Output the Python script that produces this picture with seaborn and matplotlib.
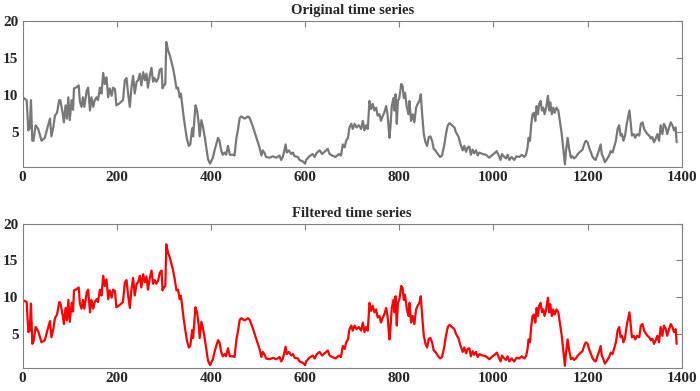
import numpy as np
import pandas as pd
import seaborn as sns
from matplotlib import pyplot as plt

# sample index and values
t = [0, 8.5, 12, 15, 17.6, 20.4, 23, 27.5, 33, 40, 47, 54, 58, 61, 65, 68.5, 73, 77.6, 80, 85,
     87.6, 91, 94, 97, 100, 104, 107, 109, 113, 119, 121.5, 125, 128, 131, 136, 139, 143, 146, 150, 153,
     157, 160, 164, 167.5, 171, 174.5, 178, 181.6, 185, 189, 192, 196, 199, 206, 213, 217, 220.5, 224, 227.6, 231,
     234.6, 238, 242, 245, 249, 252, 256, 259.5, 263, 266, 270, 273.6, 277, 280, 284, 288, 291, 295, 297, 300,
     303, 305, 309, 312.5, 316, 319.5, 323, 326.6, 330, 333.6, 336, 338.6, 342, 345.6, 349, 353, 356, 360, 362, 367,
     370.5, 374, 376, 379.6, 383, 386.7, 390, 393.7, 398, 401, 404, 408, 411, 415, 418, 422, 425, 429, 432, 436,
     440, 447, 450, 454, 457, 461, 464.5, 471.5, 478.5, 482, 489, 496, 503, 507, 510, 514, 517, 524.5, 531.6, 538.7,
     545.7, 549, 552.7, 558.5, 561, 565.6, 570.5, 574, 577.5, 584.6, 588, 595, 600, 602, 609, 616, 620, 625, 630.6, 636,
     641, 648, 652, 657.5, 664.5, 671.6, 676, 680, 684, 687, 691, 694, 698, 701, 705, 709, 714, 719, 722.5, 726,
     729.6, 733, 736.6, 740, 743.6, 747, 750.7, 754, 757.7, 761, 765, 768, 772, 775, 779, 781, 784, 787.6, 789.7, 792,
     794.6, 797, 800, 804, 807, 809.5, 812, 816, 819.6, 821.5, 825, 828.5, 832, 835.6, 839, 842.7, 845.6, 848.5, 852, 855.6,
     859, 862.6, 866, 870, 873, 876.6, 881.6, 886.5, 890.8, 895.7, 899, 903, 906.7, 912, 917, 920, 926, 929.6, 934.6, 938,
     941.7, 945, 948.7, 952, 955.8, 959, 962.9, 966.5, 970, 977, 984, 991, 998, 1004, 1007, 1011, 1015, 1018, 1021.5, 1026.6,
     1030, 1033.6, 1038.5, 1044, 1049, 1054.7, 1060, 1065.5, 1069, 1072.4, 1074.5, 1077.5, 1080, 1083, 1086, 1088.8, 1091.6, 1094.4, 1097, 1100,
     1103, 1105.7, 1108.5, 1112, 1115.6, 1118.5, 1120.5, 1124, 1127, 1130, 1134, 1137.7, 1141, 1145, 1148, 1151.7, 1154, 1157.5, 1161, 1164.5,
     1168, 1171, 1175, 1178, 1182, 1185.5, 1189, 1192.5, 1196, 1200, 1203, 1207, 1210, 1214, 1217, 1224, 1227.6, 1230, 1233, 1236.6,
     1240, 1245.7, 1249, 1253, 1256, 1260, 1263.6, 1267, 1270, 1273, 1276, 1279.5, 1283, 1286.6, 1288.7, 1291, 1294, 1298, 1301, 1305,
     1309.7, 1313, 1316.6, 1320, 1323.7, 1327, 1330.8, 1334, 1337.5, 1341, 1344.6, 1348, 1351.7, 1355, 1358.8, 1362, 1366, 1369, 1373, 1376.5,
     1380, 1383.5, 1387, 1389]

original = [9.7, 9.3, 5.2, 5.5, 9.3, 3.8, 3.8, 5.9, 5.4, 3.8, 4.2, 5.9, 6.8, 4.4, 5.6, 7.2, 7.6, 9.3, 9.3, 7.5,
            6.3, 8.6, 6.8, 9.7, 6.6, 9.3, 8.0, 10.9, 11.0, 11.3, 9.1, 8.4, 9.7, 8.4, 10.6, 11.0, 7.9, 9.7, 8.4, 9.3,
            9.7, 9.3, 11.0, 10.2, 13.0, 11.5, 12.4, 9.7, 10.9, 9.9, 11.0, 10.8, 8.6, 8.9, 9.3, 12.0, 12.3, 10.2, 8.4, 11.0,
            12.6, 10.2, 11.8, 12.0, 12.9, 11.3, 13.1, 12.0, 12.9, 11.0, 12.6, 13.7, 11.8, 12.3, 11.8, 12.3, 13.4, 13.6, 10.9, 11.3,
            11.5, 17.2, 16.0, 15.4, 14.5, 13.6, 12.4, 10.9, 11.0, 9.7, 10.2, 8.8, 7.0, 5.4, 4.0, 3.1, 3.3, 5.5, 4.4, 8.6,
            7.9, 6.1, 4.4, 6.6, 5.7, 4.3, 2.9, 1.3, 0.7, 1.1, 1.5, 2.6, 3.3, 4.2, 3.8, 2.4, 1.9, 2.2, 1.9, 3.1,
            1.9, 1.9, 1.8, 4.2, 5.2, 6.9, 7.1, 6.8, 7.1, 6.9, 5.7, 4.3, 2.9, 1.8, 2.5, 2.1, 1.6, 1.5, 1.7, 1.5,
            1.8, 1.2, 1.6, 3.3, 2.2, 2.5, 2.0, 2.2, 1.7, 1.6, 1.2, 1.0, 0.7, 1.2, 1.7, 2.0, 1.6, 2.2, 2.5, 2.0,
            2.3, 2.7, 2.0, 1.8, 1.6, 2.0, 1.8, 3.3, 2.9, 3.8, 4.2, 5.6, 6.1, 5.4, 6.1, 5.6, 5.9, 5.4, 6.5, 5.2,
            5.9, 5.4, 9.2, 8.1, 8.8, 7.9, 8.3, 7.2, 7.4, 6.5, 7.2, 7.6, 8.5, 7.4, 4.2, 5.6, 8.5, 9.6, 7.9, 10.1,
            6.1, 9.2, 9.6, 11.5, 11.2, 9.6, 10.3, 8.3, 7.4, 9.2, 6.5, 7.4, 6.3, 8.3, 8.8, 9.2, 10.1, 7.4, 4.7, 3.6,
            3.1, 4.3, 4.4, 3.7, 2.7, 2.5, 2.0, 1.6, 1.8, 3.3, 4.7, 5.9, 6.2, 5.9, 5.6, 5.0, 4.3, 3.4, 2.5, 3.1,
            2.3, 2.9, 3.0, 1.9, 2.6, 2.1, 2.5, 1.8, 2.2, 2.0, 1.9, 1.5, 1.9, 2.2, 2.4, 1.8, 1.2, 2.0, 1.7, 1.4,
            1.9, 1.2, 1.6, 1.2, 1.7, 1.6, 1.9, 1.6, 1.9, 2.9, 4.2, 3.8, 5.9, 7.4, 7.6, 6.5, 8.5, 7.4, 8.8, 9.2,
            7.9, 8.3, 7.4, 8.3, 9.9, 7.9, 9.0, 7.4, 8.3, 7.6, 8.3, 7.9, 6.5, 4.7, 2.9, 0.6, 2.4, 4.2, 2.6, 1.5,
            1.7, 1.4, 1.6, 1.9, 2.2, 2.4, 2.6, 3.3, 3.8, 3.6, 2.9, 2.2, 1.7, 1.3, 1.2, 2.5, 3.3, 2.0, 1.6, 0.9,
            1.2, 1.8, 2.4, 2.2, 2.9, 3.8, 5.4, 5.9, 4.5, 4.7, 3.8, 4.5, 6.1, 7.2, 7.9, 6.5, 4.5, 4.7, 4.2, 4.7,
            4.5, 6.1, 6.3, 5.4, 5.0, 4.7, 4.5, 4.1, 4.3, 3.6, 4.1, 4.7, 3.8, 5.9, 4.7, 6.1, 5.6, 4.7, 5.6, 6.3,
            5.9, 5.2, 5.6, 3.6]

# the filtered curve reads almost the same as the original at this resolution
filtered = [9.6, 9.3, 5.2, 5.4, 9.1, 3.6, 3.9, 5.9, 5.3, 3.8, 4.1, 5.8, 6.7, 4.5, 5.6, 7.1, 7.6, 9.3, 9.2, 7.5,
            6.3, 8.5, 6.8, 9.6, 6.6, 9.2, 8.0, 10.9, 11.0, 11.3, 9.1, 8.4, 9.6, 8.4, 10.6, 11.0, 7.9, 9.6, 8.4, 9.3,
            9.7, 9.3, 11.0, 10.2, 12.9, 11.5, 12.4, 9.7, 10.9, 9.9, 11.0, 10.8, 8.6, 8.9, 9.3, 12.0, 12.3, 10.2, 8.5, 11.0,
            12.6, 10.2, 11.8, 12.0, 12.9, 11.3, 13.1, 12.0, 12.8, 11.0, 12.6, 13.6, 11.8, 12.3, 11.8, 12.3, 13.3, 13.6, 10.9, 11.3,
            11.5, 17.2, 16.0, 15.4, 14.5, 13.6, 12.4, 10.9, 11.0, 9.7, 10.2, 8.8, 7.0, 5.4, 4.0, 3.1, 3.3, 5.5, 4.4, 8.6,
            7.9, 6.1, 4.4, 6.6, 5.7, 4.3, 2.9, 1.3, 0.7, 1.1, 1.5, 2.6, 3.3, 4.1, 3.8, 2.4, 1.9, 2.2, 1.9, 3.0,
            1.9, 1.9, 1.8, 4.2, 5.2, 6.9, 7.1, 6.8, 7.1, 6.9, 5.7, 4.3, 2.9, 1.8, 2.5, 2.1, 1.6, 1.5, 1.7, 1.5,
            1.8, 1.2, 1.6, 3.2, 2.2, 2.5, 2.0, 2.2, 1.7, 1.6, 1.2, 1.0, 0.7, 1.2, 1.7, 2.0, 1.6, 2.2, 2.5, 2.0,
            2.3, 2.7, 2.0, 1.8, 1.6, 2.0, 1.8, 3.3, 2.9, 3.8, 4.2, 5.6, 6.1, 5.4, 6.1, 5.6, 5.9, 5.4, 6.5, 5.2,
            5.9, 5.4, 9.2, 8.1, 8.8, 7.9, 8.3, 7.2, 7.4, 6.5, 7.2, 7.6, 8.5, 7.4, 4.2, 5.6, 8.5, 9.6, 7.9, 10.1,
            6.1, 9.2, 9.6, 11.5, 11.2, 9.6, 10.3, 8.3, 7.4, 9.2, 6.5, 7.4, 6.3, 8.3, 8.8, 9.2, 10.1, 7.4, 4.7, 3.6,
            3.1, 4.3, 4.4, 3.7, 2.7, 2.5, 2.0, 1.6, 1.8, 3.3, 4.7, 5.9, 6.2, 5.9, 5.6, 5.0, 4.3, 3.4, 2.5, 3.1,
            2.3, 2.9, 3.0, 1.9, 2.6, 2.1, 2.5, 1.8, 2.2, 2.0, 1.9, 1.5, 1.9, 2.2, 2.4, 1.8, 1.2, 2.0, 1.7, 1.4,
            1.9, 1.2, 1.6, 1.2, 1.7, 1.6, 1.9, 1.6, 1.9, 2.9, 4.2, 3.8, 5.9, 7.4, 7.6, 6.5, 8.5, 7.4, 8.8, 9.2,
            7.9, 8.3, 7.4, 8.3, 9.9, 7.9, 9.0, 7.4, 8.3, 7.6, 8.3, 7.9, 6.5, 4.7, 2.9, 0.6, 2.4, 4.2, 2.6, 1.5,
            1.7, 1.4, 1.6, 1.9, 2.2, 2.4, 2.6, 3.3, 3.8, 3.6, 2.9, 2.2, 1.7, 1.3, 1.2, 2.5, 3.3, 2.0, 1.6, 0.9,
            1.2, 1.8, 2.4, 2.2, 2.9, 3.8, 5.4, 5.9, 4.5, 4.7, 3.8, 4.5, 6.1, 7.2, 7.9, 6.5, 4.5, 4.7, 4.2, 4.7,
            4.5, 6.1, 6.3, 5.4, 5.0, 4.7, 4.5, 4.1, 4.3, 3.6, 4.1, 4.7, 3.8, 5.9, 4.7, 6.1, 5.6, 4.7, 5.6, 6.3,
            5.9, 5.2, 5.6, 3.6]

x_ticks = [0, 200, 400, 600, 800, 1000, 1200, 1400]
y_ticks = [5, 10, 15, 20]

df = pd.DataFrame({'t': t, 'original': original, 'filtered': filtered})

sns.set_style('white')
plt.rcParams['font.family'] = ['Liberation Serif', 'DejaVu Serif']
plt.rcParams['font.weight'] = 'bold'

fig = plt.figure(figsize=(7, 3.91), dpi=100)
ax1 = fig.add_axes([0.0324, 0.574, 0.9416, 0.3715])
ax2 = fig.add_axes([0.0324, 0.0588, 0.9416, 0.369])

panels = [(ax1, 'original', '#787878', 'Original time series'),
          (ax2, 'filtered', '#ff0000', 'Filtered time series')]

for ax, col, color, title in panels:
    sns.lineplot(data=df, x='t', y=col, ax=ax, color=color, linewidth=1.6,
                 estimator=None, sort=False)
    ax.set_xlim(0, 1400)
    ax.set_ylim(0.3, 20)
    ax.set_xticks(x_ticks)
    ax.set_yticks(y_ticks)
    ax.set_xlabel('')
    ax.set_ylabel('')
    ax.set_title(title, fontsize=10.5, fontweight='bold', pad=5)
    ax.tick_params(direction='in', length=4, width=0.8, color='#808080',
                   top=True, right=True, labelsize=11, pad=3)
    for lbl in ax.get_xticklabels() + ax.get_yticklabels():
        lbl.set_fontweight('bold')
    for s in ax.spines.values():
        s.set_color('#808080')
        s.set_linewidth(0.8)

fig.savefig('out.png', dpi=100)
